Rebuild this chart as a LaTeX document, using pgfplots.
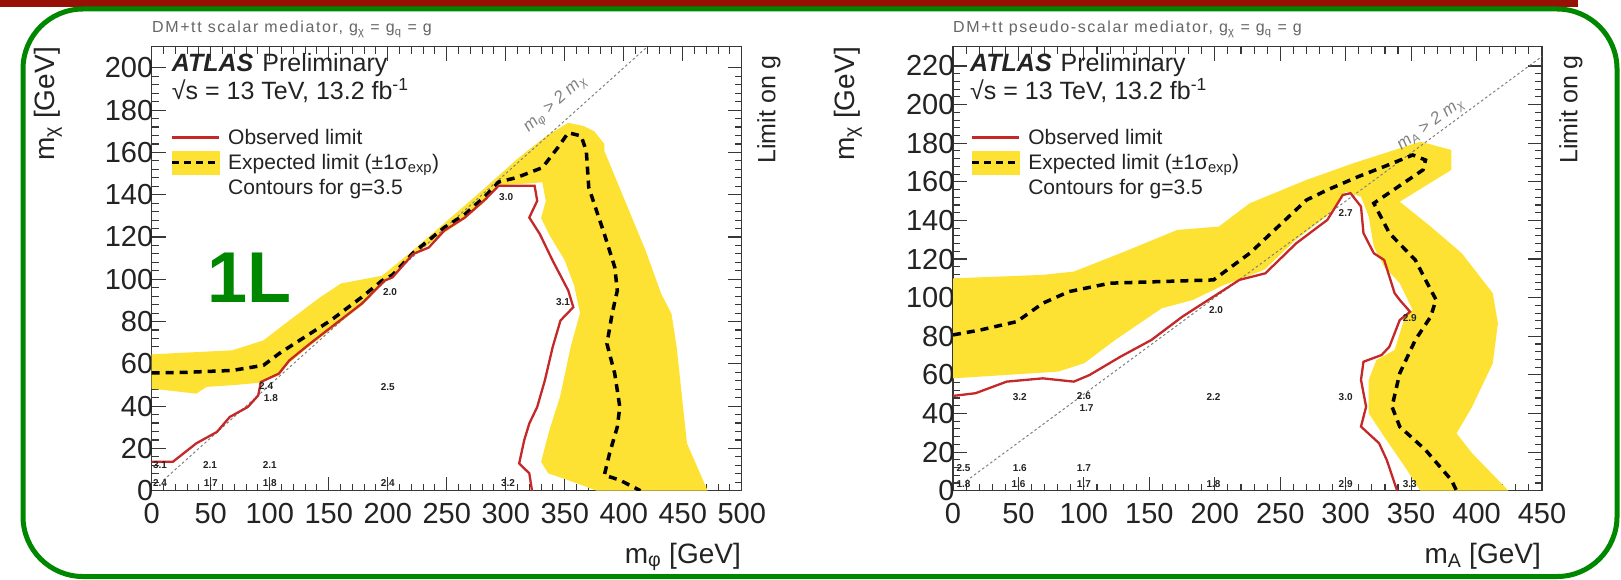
\documentclass[border=0pt]{standalone}
\usepackage{fontspec}
\setmainfont{Liberation Sans}
\usepackage{pgfplots}
\pgfplotsset{compat=1.18}
\definecolor{framered}{RGB}{150,16,6}
\definecolor{framegreen}{RGB}{0,135,0}
\definecolor{band}{RGB}{253,226,52}
\definecolor{obsred}{RGB}{196,40,40}
\definecolor{axgray}{RGB}{55,55,55}
\definecolor{txt}{RGB}{35,35,35}
\tikzset{
 smallnum/.style={font=\fontsize{10}{11}\selectfont\bfseries, text=txt, inner sep=0pt},
 expline/.style={black, line width=3.5pt, dash pattern=on 8pt off 6pt},
 obsline/.style={obsred, line width=2.3pt},
 diagline/.style={gray, line width=1pt, dash pattern=on 2.5pt off 2.5pt},
}
\pgfplotsset{
 atlas/.style={
  scale only axis, width=590pt, height=444pt, ymin=0,
  tick align=inside,
  major tick length=14pt, minor tick length=7pt,
  minor x tick num=4, minor y tick num=4,
  axis line style={axgray, line width=1.5pt},
  tick style={axgray, line width=1.1pt},
  /pgf/number format/assume math mode=true,
  ticklabel style={font=\fontsize{29}{30}\selectfont, text=txt},
  xticklabel style={yshift=-9pt},
  yticklabel style={xshift=5pt},
  legend image code/.code={\draw[##1] (0pt,0pt) -- (47pt,0pt);},
  legend style={draw=none, fill=none, inner sep=0pt, font=\fontsize{21}{23}\selectfont, text=txt, row sep=3.5pt, nodes={inner sep=1.5pt},
    /tikz/every odd column/.append style={column sep=6pt}},
  legend cell align=left,
 },
}
\newcommand{\bandimage}{\addlegendimage{legend image code/.code={\fill[band] (0pt,-11.5pt) rectangle (47pt,11.5pt); \draw[black, line width=3.5pt, dash pattern=on 7pt off 5pt] (0pt,0pt) -- (47pt,0pt);}}}
\begin{document}
\begin{tikzpicture}
\useasboundingbox (0pt,0pt) rectangle (1621pt,579pt);
\fill[white] (0pt,0pt) rectangle (1621pt,579pt);
% slide frame
\fill[framered] (0pt,571.5pt) rectangle (1578pt,579pt);
\draw[framegreen, line width=5pt, rounded corners=60pt] (23pt,2.5pt) rectangle (1617pt,570pt);

% ---------------- left panel ----------------
\begin{axis}[atlas, at={(151.7pt,88.3pt)}, anchor=south west,
  xmin=0, xmax=500, ymax=210, xtick={0,50,...,500}, ytick={0,20,...,200},
  legend style={at={(axis description cs:0.031,0.818)}, anchor=north west}]
\addplot[fill=band, draw=none, forget plot] coordinates {
 (0,64.5) (68.4,66.4) (94.7,71.1) (116.6,80.5) (142.8,91.5) (160.4,98) (195.3,101.7)
 (220,113) (250,127.5) (280,142) (310,157) (335,168) (353,174) (366,172.5) (375,170)
 (383.6,164) (383.6,160.7) (401.1,137.1) (418.6,113.5) (431.8,93.1) (440.5,83.7)
 (444.9,67.9) (453.6,22.4) (471.1,0)
 (377,0) (353,5) (336,8.2) (330,13.7) (337,28.6) (346,44.3) (355,67.9) (363,84)
 (358,97) (350,109) (337,121) (330,129) (334,137) (331,146) (324.5,145.5) (293.9,144.5)
 (282.9,137) (265.4,128.5) (247.9,122) (221.6,111) (197.5,98.5) (177.9,87.5)
 (156,78) (134,68.5) (116.6,60.5) (107.8,54.5) (90.3,51) (68.4,49.9) (46.5,49.1)
 (37.8,45.9) (0,48.3)} -- cycle;
\addplot[diagline, forget plot] coordinates {(10,5) (420,210)};
\addplot[expline, forget plot] coordinates {
 (0,55.7) (30,56) (68.4,56.9) (94.7,59.3) (107.8,64.8) (125.3,71.1) (151.6,80.5)
 (177.9,91.5) (195.3,99.4) (204,102) (221.6,112.5) (248,124.5) (265,130.5) (283,139.5)
 (294,146) (309.2,148.1) (331.1,152.8) (344.2,162.3) (353,169.3) (363.9,167.8)
 (368.3,160.7) (370.4,143.4) (383.6,121.4) (392.4,105.7) (394.6,94.7) (390.2,83.7)
 (385.8,69.5) (392.4,55.4) (396.7,39.6) (394.6,30.2) (388,17.6) (383.6,7.4)
 (396.7,5) (414.2,0)};
\addplot[obsline, forget plot] coordinates {
 (0,13.7) (18,13.7) (37.8,22.4) (55.3,27.8) (66.2,34.9) (81.5,39.6) (90.3,45.1)
 (92.5,51.4) (107.8,55.4) (116.6,61.6) (134,69.5) (156,79) (177.9,88.4) (197.5,99.4)
 (204,100.9) (221.6,112) (234.8,115) (247.9,123) (265.4,129.2) (282.9,137.9)
 (293.9,144.2) (324.5,144.2) (326.7,137.1) (320,129.2) (328.9,121.4) (339.8,108.8)
 (353,94.7) (357.3,86.8) (346.4,80.5) (339.8,67.9) (333.2,52.2) (326.7,39.6)
 (320,31.8) (315.7,23.9) (311.4,12.9) (320,8.2) (322.3,0)};
\addlegendimage{obsline}
\addlegendentry{Observed limit}
\bandimage
\addlegendentry{Expected limit (±1σ\textsubscript{exp})}
\addlegendimage{empty legend}
\addlegendentry{Contours for g=3.5}
\node[rotate=41.9, text=gray, font=\fontsize{17}{18}\selectfont\itshape] at (axis cs:342,182.7) {m\textsubscript{φ} > 2 m\textsubscript{χ}};
\node[smallnum] at (axis cs:7,12) {3.1};
\node[smallnum] at (axis cs:49.4,12) {2.1};
\node[smallnum] at (axis cs:100,12) {2.1};
\node[smallnum] at (axis cs:7,3.5) {2.4};
\node[smallnum] at (axis cs:50,3.5) {1.7};
\node[smallnum] at (axis cs:100,3.5) {1.8};
\node[smallnum] at (axis cs:200,3.5) {2.4};
\node[smallnum] at (axis cs:302,3.5) {3.2};
\node[smallnum] at (axis cs:97,49.4) {2.4};
\node[smallnum] at (axis cs:101,44) {1.8};
\node[smallnum] at (axis cs:200,49) {2.5};
\node[smallnum] at (axis cs:202,94) {2.0};
\node[smallnum] at (axis cs:348.6,89.2) {3.1};
\node[smallnum] at (axis cs:300.4,138.7) {3.0};
\end{axis}

% ---------------- right panel ----------------
\begin{axis}[atlas, at={(953pt,88.3pt)}, anchor=south west, width=589pt,
  xmin=0, xmax=450, ymax=230, xtick={0,50,...,450}, ytick={0,20,...,220},
  legend style={at={(axis description cs:0.029,0.818)}, anchor=north west}]
\addplot[fill=band, draw=none, forget plot] coordinates {
 (0,110) (68.6,111.8) (92.3,113.5) (127.9,123) (171.4,135.1) (203,136.8) (226.7,148.9)
 (270.1,161) (305.7,169.6) (357.1,180.8) (380.8,176.5) (380.8,166.2) (341.3,149.7)
 (365,136.8) (388.7,123) (412.4,102.3) (416.3,86.7) (412.4,66) (396.6,43.5)
 (384.7,29.7) (396.6,19.4) (424.3,0)
 (357,0) (345.2,12.4) (329.4,28) (317.6,40.1) (317.6,57.4) (323.5,67.7) (337.4,72.9)
 (345.3,90.2) (351.2,93.6) (341.3,107.5) (329.4,116.1) (321.5,126.4) (317.6,142)
 (311.7,152.3) (300,155) (286,142.5) (262,130) (238,114.5) (222.7,110.5) (207,106.6)
 (183.2,98.8) (159.5,94.5) (123.9,78.1) (100.2,66) (80.4,61.7) (0,58.2)} -- cycle;
\addplot[diagline, forget plot] coordinates {(10,5) (450,225)};
\addplot[expline, forget plot] coordinates {
 (0,80.7) (21.2,83.3) (48.8,87.6) (68.6,97.1) (88.4,103.1) (120,107.5) (199,109.2)
 (226.7,123) (270.1,150.6) (286,155.8) (309.6,162.7) (329.4,167.9) (351.2,173.9)
 (361,171.3) (359.1,166.2) (321.5,148.9) (333.4,133.4) (353.2,119.5) (365,104)
 (369,99) (365,90.2) (353.2,78.1) (341.3,60.8) (335.4,43.5) (341.3,33.2) (361,21.1)
 (380.8,5.5) (384.7,0)};
\addplot[obsline, forget plot] coordinates {
 (0,49.1) (17.2,50.5) (41,56.5) (68.6,58.2) (92.3,56.5) (104.2,59.9) (127.9,69.4)
 (151.6,78.1) (175.3,90.2) (191.1,97.1) (207,104) (218.8,109.2) (238.6,112.6)
 (262.3,128.2) (286,140.3) (297.8,153.2) (303.7,154.1) (311.7,147.2) (313.6,133.4)
 (321.5,123) (329.4,119.5) (337.4,102.3) (341.3,98.8) (349.2,92.7) (341.3,88.4)
 (333.4,74.6) (327.5,70.3) (313.6,66.8) (311.7,57.4) (315.6,43.5) (311.7,33.2)
 (325.5,24.6) (331.4,15.9) (339.3,0)};
\addlegendimage{obsline}
\addlegendentry{Observed limit}
\bandimage
\addlegendentry{Expected limit (±1σ\textsubscript{exp})}
\addlegendimage{empty legend}
\addlegendentry{Contours for g=3.5}
\node[rotate=36.4, text=gray, font=\fontsize{17}{18}\selectfont\itshape] at (axis cs:365,189.5) {m\textsubscript{A} > 2 m\textsubscript{χ}};
\node[smallnum] at (axis cs:8,11.6) {2.5};
\node[smallnum] at (axis cs:51,11.6) {1.6};
\node[smallnum] at (axis cs:100,11.6) {1.7};
\node[smallnum] at (axis cs:8,3.5) {1.8};
\node[smallnum] at (axis cs:50,3.5) {1.6};
\node[smallnum] at (axis cs:100,3.5) {1.7};
\node[smallnum] at (axis cs:199,3.5) {1.8};
\node[smallnum] at (axis cs:300,3.5) {2.9};
\node[smallnum] at (axis cs:349,3.5) {3.3};
\node[smallnum] at (axis cs:51,48.7) {3.2};
\node[smallnum] at (axis cs:100,49) {2.6};
\node[smallnum] at (axis cs:102,43) {1.7};
\node[smallnum] at (axis cs:199,48.7) {2.2};
\node[smallnum] at (axis cs:300,48.7) {3.0};
\node[smallnum] at (axis cs:201,93.6) {2.0};
\node[smallnum] at (axis cs:349,89.3) {2.9};
\node[smallnum] at (axis cs:300,143.7) {2.7};
\end{axis}

% ---------------- texts around the panels ----------------
\node[anchor=base west, inner sep=0pt, text=black!60, font=\fontsize{16}{17}\selectfont\addfontfeature{LetterSpace=10}] at (152pt,546pt) {DM+tt scalar mediator, g\textsubscript{χ} = g\textsubscript{q} = g};
\node[anchor=base west, inner sep=0pt, text=black!60, font=\fontsize{16}{17}\selectfont\addfontfeature{LetterSpace=10}] at (953pt,546pt) {DM+tt pseudo-scalar mediator, g\textsubscript{χ} = g\textsubscript{q} = g};

\foreach \xo in {171.7, 970} {
 \node[anchor=base west, inner sep=0pt, text=txt, font=\fontsize{25}{26}\selectfont] at (\xo pt,507pt) {{\bfseries\itshape ATLAS}\hspace{9pt}Preliminary};
 \node[anchor=base west, inner sep=0pt, text=txt, font=\fontsize{25}{26}\selectfont] at (\xo pt,479pt) {√s = 13 TeV, 13.2 fb\textsuperscript{-1}};
}
\node[rotate=90, anchor=east, inner sep=0pt, text=txt, font=\fontsize{28}{30}\selectfont] at (48pt,532pt) {m\textsubscript{χ} [GeV]};
\node[rotate=90, anchor=east, inner sep=0pt, text=txt, font=\fontsize{28}{30}\selectfont] at (848pt,532pt) {m\textsubscript{χ} [GeV]};
\node[rotate=90, anchor=east, inner sep=0pt, text=txt, font=\fontsize{25}{26}\selectfont] at (769pt,524pt) {Limit on g};
\node[rotate=90, anchor=east, inner sep=0pt, text=txt, font=\fontsize{25}{26}\selectfont] at (1571pt,524pt) {Limit on g};
\node[anchor=base east, inner sep=0pt, text=txt, font=\fontsize{28}{30}\selectfont] at (741pt,16pt) {m\textsubscript{φ} [GeV]};
\node[anchor=base east, inner sep=0pt, text=txt, font=\fontsize{28}{30}\selectfont] at (1541pt,16pt) {m\textsubscript{A} [GeV]};
\node[anchor=base west, inner sep=0pt, text=framegreen, font=\fontsize{72}{72}\selectfont\bfseries] at (207pt,277pt) {1L};
\end{tikzpicture}
\end{document}
